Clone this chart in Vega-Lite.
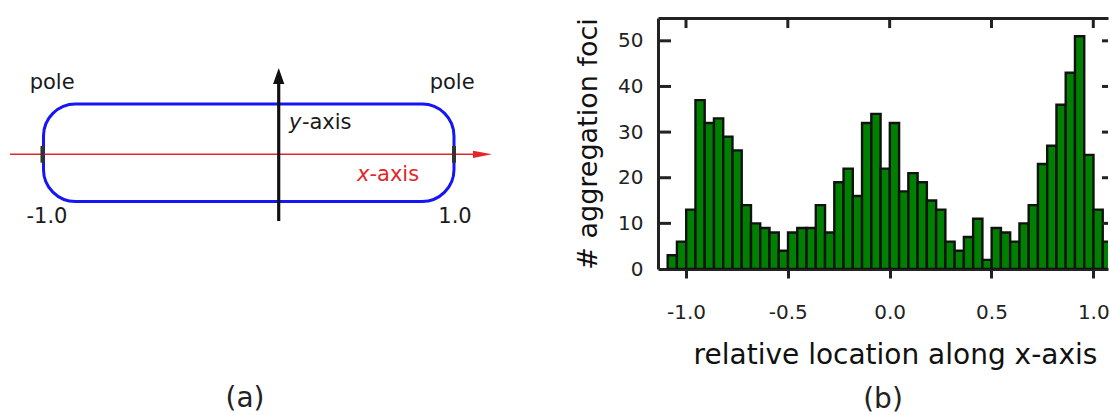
{
  "$schema": "https://vega.github.io/schema/vega-lite/v6.json",
  "padding": {"left": 0, "top": 16, "right": 0, "bottom": 0},
  "autosize": {"type": "pad"},
  "background": "white",
  "bounds": "flush",
  "spacing": 168,
  "config": {"view": {"stroke": null}, "font": "DejaVu Sans"},
  "datasets": {
    "hist": [
      {"start": -1.0900, "end": -1.0445, "count": 3},
      {"start": -1.0445, "end": -0.9991, "count": 6},
      {"start": -0.9991, "end": -0.9536, "count": 13},
      {"start": -0.9536, "end": -0.9082, "count": 37},
      {"start": -0.9082, "end": -0.8627, "count": 32},
      {"start": -0.8627, "end": -0.8173, "count": 33},
      {"start": -0.8173, "end": -0.7718, "count": 29},
      {"start": -0.7718, "end": -0.7264, "count": 26},
      {"start": -0.7264, "end": -0.6809, "count": 14},
      {"start": -0.6809, "end": -0.6355, "count": 10},
      {"start": -0.6355, "end": -0.5900, "count": 9},
      {"start": -0.5900, "end": -0.5445, "count": 8},
      {"start": -0.5445, "end": -0.4991, "count": 4},
      {"start": -0.4991, "end": -0.4536, "count": 8},
      {"start": -0.4536, "end": -0.4082, "count": 9},
      {"start": -0.4082, "end": -0.3627, "count": 9},
      {"start": -0.3627, "end": -0.3173, "count": 14},
      {"start": -0.3173, "end": -0.2718, "count": 8},
      {"start": -0.2718, "end": -0.2264, "count": 19},
      {"start": -0.2264, "end": -0.1809, "count": 22},
      {"start": -0.1809, "end": -0.1355, "count": 16},
      {"start": -0.1355, "end": -0.0900, "count": 32},
      {"start": -0.0900, "end": -0.0445, "count": 34},
      {"start": -0.0445, "end": 0.0009, "count": 22},
      {"start": 0.0009, "end": 0.0464, "count": 32},
      {"start": 0.0464, "end": 0.0918, "count": 17},
      {"start": 0.0918, "end": 0.1373, "count": 21},
      {"start": 0.1373, "end": 0.1827, "count": 19},
      {"start": 0.1827, "end": 0.2282, "count": 15},
      {"start": 0.2282, "end": 0.2736, "count": 13},
      {"start": 0.2736, "end": 0.3191, "count": 6},
      {"start": 0.3191, "end": 0.3645, "count": 4},
      {"start": 0.3645, "end": 0.4100, "count": 7},
      {"start": 0.4100, "end": 0.4555, "count": 11},
      {"start": 0.4555, "end": 0.5009, "count": 2},
      {"start": 0.5009, "end": 0.5464, "count": 9},
      {"start": 0.5464, "end": 0.5918, "count": 8},
      {"start": 0.5918, "end": 0.6373, "count": 6},
      {"start": 0.6373, "end": 0.6827, "count": 10},
      {"start": 0.6827, "end": 0.7282, "count": 14},
      {"start": 0.7282, "end": 0.7736, "count": 23},
      {"start": 0.7736, "end": 0.8191, "count": 27},
      {"start": 0.8191, "end": 0.8645, "count": 36},
      {"start": 0.8645, "end": 0.9100, "count": 43},
      {"start": 0.9100, "end": 0.9555, "count": 51},
      {"start": 0.9555, "end": 1.0009, "count": 25},
      {"start": 1.0009, "end": 1.0464, "count": 13},
      {"start": 1.0464, "end": 1.0918, "count": 6}
    ],
    "yticks": [{"v": 10}, {"v": 20}, {"v": 30}, {"v": 40}, {"v": 50}],
    "xticks": [{"t": -1}, {"t": -0.5}, {"t": 0}, {"t": 0.5}, {"t": 1}]
  },
  "hconcat": [
    {
      "width": 490,
      "height": 350,
      "title": {"text": "(a)", "orient": "bottom", "frame": "group", "offset": 17, "fontSize": 28, "font": "DejaVu Sans", "fontWeight": "normal", "color": "#222"},
      "layer": [
        {
          "data": {"values": [{"x": -1.0, "x2": 1.0, "y": 0.49, "y2": -0.485}]},
          "mark": {"type": "rect", "filled": false, "color": "#1515f5", "strokeWidth": 3, "cornerRadius": 32},
          "encoding": {
            "x": {"field": "x", "type": "quantitative", "scale": {"domain": [-1.2119, 1.1754], "nice": false, "zero": false}, "axis": null},
            "x2": {"field": "x2"},
            "y": {"field": "y", "type": "quantitative", "scale": {"domain": [-2.15, 1.35], "nice": false, "zero": false}, "axis": null},
            "y2": {"field": "y2"}
          }
        },
        {
          "data": {"values": [{"x": -1.163, "x2": 1.13, "y": -0.013}]},
          "mark": {"type": "rule", "color": "#e3262a", "strokeWidth": 1.6},
          "encoding": {
            "x": {"field": "x", "type": "quantitative", "scale": {"domain": [-1.2119, 1.1754], "nice": false, "zero": false}, "axis": null},
            "x2": {"field": "x2"},
            "y": {"field": "y", "type": "quantitative", "scale": {"domain": [-2.15, 1.35], "nice": false, "zero": false}, "axis": null}
          }
        },
        {
          "data": {"values": [{"x": 1.139, "y": -0.013}]},
          "mark": {"type": "point", "shape": "M-1,-0.38L1,0L-1,0.38Z", "filled": true, "color": "#e3262a", "size": 361, "opacity": 1, "strokeWidth": 0},
          "encoding": {
            "x": {"field": "x", "type": "quantitative", "scale": {"domain": [-1.2119, 1.1754], "nice": false, "zero": false}, "axis": null},
            "y": {"field": "y", "type": "quantitative", "scale": {"domain": [-2.15, 1.35], "nice": false, "zero": false}, "axis": null}
          }
        },
        {
          "data": {"values": [{"x": 0.146, "y": -0.68, "y2": 0.72}]},
          "mark": {"type": "rule", "color": "#111111", "strokeWidth": 3.2},
          "encoding": {
            "x": {"field": "x", "type": "quantitative", "scale": {"domain": [-1.2119, 1.1754], "nice": false, "zero": false}, "axis": null},
            "y": {"field": "y", "type": "quantitative", "scale": {"domain": [-2.15, 1.35], "nice": false, "zero": false}, "axis": null},
            "y2": {"field": "y2"}
          }
        },
        {
          "data": {"values": [{"x": 0.146, "y": 0.77}]},
          "mark": {"type": "point", "shape": "M-0.7,1L0,-1L0.7,1Z", "filled": true, "color": "#111111", "size": 256, "opacity": 1, "strokeWidth": 0},
          "encoding": {
            "x": {"field": "x", "type": "quantitative", "scale": {"domain": [-1.2119, 1.1754], "nice": false, "zero": false}, "axis": null},
            "y": {"field": "y", "type": "quantitative", "scale": {"domain": [-2.15, 1.35], "nice": false, "zero": false}, "axis": null}
          }
        },
        {
          "data": {"values": [{"x": -1.005, "y": 0.07, "y2": -0.097}, {"x": 1.0, "y": 0.07, "y2": -0.097}]},
          "mark": {"type": "rule", "color": "#333333", "strokeWidth": 4},
          "encoding": {
            "x": {"field": "x", "type": "quantitative", "scale": {"domain": [-1.2119, 1.1754], "nice": false, "zero": false}, "axis": null},
            "y": {"field": "y", "type": "quantitative", "scale": {"domain": [-2.15, 1.35], "nice": false, "zero": false}, "axis": null},
            "y2": {"field": "y2"}
          }
        },
        {
          "data": {"values": [
            {"label": "pole", "x": -0.958, "y": 0.64},
            {"label": "pole", "x": 0.991, "y": 0.64},
            {"label": "-1.0", "x": -0.983, "y": -0.697},
            {"label": "1.0", "x": 1.005, "y": -0.697}
          ]},
          "mark": {"type": "text", "font": "DejaVu Sans", "fontSize": 21, "color": "#1a1a1a", "align": "center", "baseline": "alphabetic"},
          "encoding": {
            "x": {"field": "x", "type": "quantitative", "scale": {"domain": [-1.2119, 1.1754], "nice": false, "zero": false}, "axis": null},
            "y": {"field": "y", "type": "quantitative", "scale": {"domain": [-2.15, 1.35], "nice": false, "zero": false}, "axis": null},
            "text": {"field": "label"}
          }
        },
        {
          "data": {"values": [{"label": "y", "x": 0.196, "y": 0.237}]},
          "mark": {"type": "text", "font": "DejaVu Sans", "fontSize": 21, "fontStyle": "italic", "color": "#1a1a1a", "align": "left", "baseline": "alphabetic"},
          "encoding": {
            "x": {"field": "x", "type": "quantitative", "scale": {"domain": [-1.2119, 1.1754], "nice": false, "zero": false}, "axis": null},
            "y": {"field": "y", "type": "quantitative", "scale": {"domain": [-2.15, 1.35], "nice": false, "zero": false}, "axis": null},
            "text": {"field": "label"}
          }
        },
        {
          "data": {"values": [{"label": "-axis", "x": 0.259, "y": 0.237}]},
          "mark": {"type": "text", "font": "DejaVu Sans", "fontSize": 21, "color": "#1a1a1a", "align": "left", "baseline": "alphabetic"},
          "encoding": {
            "x": {"field": "x", "type": "quantitative", "scale": {"domain": [-1.2119, 1.1754], "nice": false, "zero": false}, "axis": null},
            "y": {"field": "y", "type": "quantitative", "scale": {"domain": [-2.15, 1.35], "nice": false, "zero": false}, "axis": null},
            "text": {"field": "label"}
          }
        },
        {
          "data": {"values": [{"label": "x", "x": 0.527, "y": -0.28}]},
          "mark": {"type": "text", "font": "DejaVu Sans", "fontSize": 21, "fontStyle": "italic", "color": "#e3262a", "align": "left", "baseline": "alphabetic"},
          "encoding": {
            "x": {"field": "x", "type": "quantitative", "scale": {"domain": [-1.2119, 1.1754], "nice": false, "zero": false}, "axis": null},
            "y": {"field": "y", "type": "quantitative", "scale": {"domain": [-2.15, 1.35], "nice": false, "zero": false}, "axis": null},
            "text": {"field": "label"}
          }
        },
        {
          "data": {"values": [{"label": "-axis", "x": 0.588, "y": -0.28}]},
          "mark": {"type": "text", "font": "DejaVu Sans", "fontSize": 21, "color": "#e3262a", "align": "left", "baseline": "alphabetic"},
          "encoding": {
            "x": {"field": "x", "type": "quantitative", "scale": {"domain": [-1.2119, 1.1754], "nice": false, "zero": false}, "axis": null},
            "y": {"field": "y", "type": "quantitative", "scale": {"domain": [-2.15, 1.35], "nice": false, "zero": false}, "axis": null},
            "text": {"field": "label"}
          }
        }
      ]
    },
    {
      "width": 450,
      "height": 251,
      "title": {"text": "(b)", "orient": "bottom", "frame": "group", "offset": 17, "fontSize": 28, "font": "DejaVu Sans", "fontWeight": "normal", "color": "#222"},
      "resolve": {"axis": {"x": "independent", "y": "independent"}},
      "layer": [
        {
          "data": {"name": "hist"},
          "mark": {"type": "rect", "color": "#008000", "stroke": "#111111", "strokeWidth": 2.4, "clip": true},
          "encoding": {
            "x": {
              "field": "start", "type": "quantitative",
              "scale": {"domain": [-1.1375, 1.0722], "nice": false, "zero": false},
              "axis": {
                "orient": "bottom", "values": [-1, -0.5, 0, 0.5, 1],
                "labelExpr": "(datum.value < 0 ? '-' : '') + format(abs(datum.value), '.1f')",
                "title": "relative location along x-axis",
                "grid": false, "domainWidth": 3, "domainColor": "#222222",
                "tickColor": "#222222", "tickWidth": 3, "tickSize": 9,
                "labelFont": "DejaVu Sans", "labelFontSize": 20, "labelColor": "#222222", "labelPadding": 24, "labelFlush": false,
                "titleFont": "DejaVu Sans", "titleFontSize": 28, "titleFontWeight": "normal", "titleColor": "#111111", "titlePadding": 19, "titleX": 237
              }
            },
            "x2": {"field": "end"},
            "y": {
              "field": "count", "type": "quantitative",
              "scale": {"domain": [0, 55], "nice": false, "zero": false},
              "axis": {
                "orient": "left", "values": [0, 10, 20, 30, 40, 50],
                "title": "# aggregation foci",
                "grid": false, "domainWidth": 3, "domainColor": "#222222",
                "ticks": false,
                "labelFont": "DejaVu Sans", "labelFontSize": 20, "labelColor": "#222222", "labelPadding": 15, "labelFlush": false,
                "titleFont": "DejaVu Sans", "titleFontSize": 27, "titleFontWeight": "normal", "titleColor": "#111111", "titlePadding": 15
              }
            },
            "y2": {"datum": 0}
          }
        },
        {
          "data": {"name": "xticks"},
          "mark": {"type": "rule", "color": "#222222", "strokeWidth": 3},
          "encoding": {
            "x": {
              "field": "t", "type": "quantitative",
              "scale": {"domain": [-1.1375, 1.0722], "nice": false, "zero": false},
              "axis": {
                "orient": "top", "values": [-1, -0.5, 0, 0.5, 1], "labels": false, "ticks": false, "title": null,
                "grid": false, "domainWidth": 3, "domainColor": "#222222"
              }
            },
            "y": {"datum": 55, "type": "quantitative", "scale": {"domain": [0, 55], "nice": false, "zero": false}, "axis": null},
            "y2": {"datum": 52.8}
          }
        },
        {
          "data": {"name": "yticks"},
          "mark": {"type": "rule", "color": "#222222", "strokeWidth": 3},
          "encoding": {
            "x": {"datum": -1.1375, "type": "quantitative", "scale": {"domain": [-1.1375, 1.0722], "nice": false, "zero": false}, "axis": null},
            "x2": {"datum": -1.0737},
            "y": {"field": "v", "type": "quantitative", "scale": {"domain": [0, 55], "nice": false, "zero": false}, "axis": null}
          }
        },
        {
          "data": {"name": "yticks"},
          "mark": {"type": "rule", "color": "#222222", "strokeWidth": 3},
          "encoding": {
            "x": {"datum": 1.0722, "type": "quantitative", "scale": {"domain": [-1.1375, 1.0722], "nice": false, "zero": false}, "axis": null},
            "x2": {"datum": 1.0427},
            "y": {"field": "v", "type": "quantitative", "scale": {"domain": [0, 55], "nice": false, "zero": false}, "axis": null}
          }
        }
      ]
    }
  ]
}
